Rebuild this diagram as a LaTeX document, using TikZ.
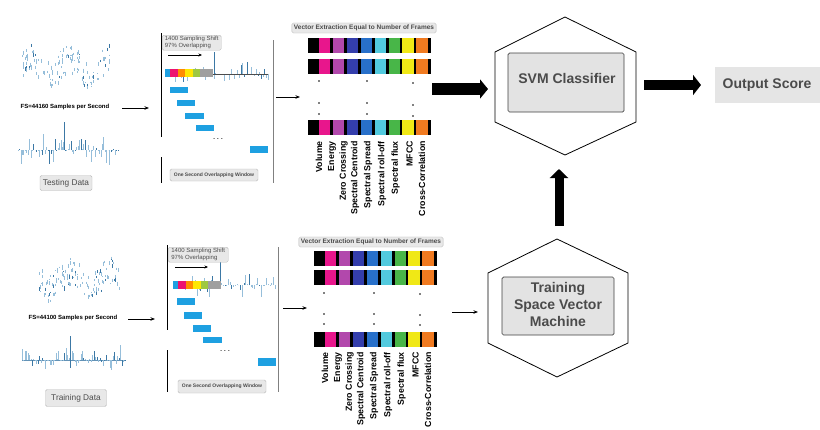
\documentclass[tikz,border=0pt]{standalone}
\usepackage{fontspec}
\setmainfont{Liberation Sans}
\usetikzlibrary{arrows.meta}
\definecolor{wv}{RGB}{150,190,218}
\definecolor{wvd}{RGB}{60,120,165}
\definecolor{cpink}{RGB}{232,22,140}
\definecolor{cpurple}{RGB}{178,72,172}
\definecolor{cindigo}{RGB}{52,62,172}
\definecolor{cblue}{RGB}{40,112,202}
\definecolor{ccyan}{RGB}{82,202,222}
\definecolor{cgreen}{RGB}{72,182,72}
\definecolor{cyellow}{RGB}{240,232,22}
\definecolor{corange}{RGB}{240,122,32}
\definecolor{winblue}{RGB}{30,160,225}
\definecolor{txtgray}{RGB}{75,75,75}
\newcommand\featrow[2]{%
  \fill[black] (#1,#2) rectangle ++(123,15);
  \foreach \c [count=\i from 0] in {cpink,cpurple,cindigo,cblue,ccyan,cgreen,cyellow,corange}{%
    \fill[\c] ({#1+11+\i*13.9},#2) rectangle ++(11.2,15);}%
}
\newcommand\featlabels[3]{%
  \foreach \o/\t [count=\i] in {0/Volume,13/Energy,24.5/Zero Crossing,36/Spectral Centroid,49/Spectral Spread,63/Spectral roll-off,76.5/Spectral flux,90.5/MFCC,103/Cross-Correlation}{%
    \node[feat] (#3\i) at ({#1+\o},#2) {\t};}%
}
\newcommand\scatwave[6]{%
  \pgfmathsetseed{#5}%
  \foreach \k in {1,...,#6}{%
    \pgfmathsetmacro\xx{#1+rnd*#2}%
    \pgfmathsetmacro\yy{#3+#4*sin(\xx*9)+rand*14}%
    \pgfmathsetmacro\hh{1+rnd*3.5}%
    \pgfmathsetmacro\cc{rnd>0.85 ? 1 : 0}%
    \ifdim\cc pt>0.5pt \draw[wvd,line width=0.5pt] (\xx,\yy) -- ++(0,\hh);%
    \else \draw[wv,line width=0.5pt] (\xx,\yy) -- ++(0,\hh);\fi}%
}
\newcommand\spikewave[6]{%
  \pgfmathsetseed{#5}%
  \foreach \k in {0,...,#6}{%
    \pgfmathsetmacro\xx{#1+\k*#2/#6}%
    \pgfmathsetmacro\hh{#4*rand*rnd}%
    \pgfmathsetmacro\cc{rnd>0.75 ? 1 : 0}%
    \ifdim\cc pt>0.5pt \draw[wvd,line width=0.7pt] (\xx,#3) -- ++(0,\hh);%
    \else \draw[wv,line width=0.6pt] (\xx,#3) -- ++(0,\hh);\fi}%
}
\newcommand\colstrip[2]{%
  \fill[winblue] (#1,#2) rectangle ++(5,8);
  \fill[cpink!80!red] ({#1+5},#2) rectangle ++(8,8);
  \fill[orange!90!yellow] ({#1+13},#2) rectangle ++(7,8);
  \fill[yellow!90!orange] ({#1+20},#2) rectangle ++(8,8);
  \fill[yellow!60!green!80!gray] ({#1+28},#2) rectangle ++(7,8);
  \fill[gray!75] ({#1+35},#2) rectangle ++(13,8);
}
\begin{document}
\begin{tikzpicture}[x=1pt,y=-1pt,
  graybox/.style={draw=gray!55, fill=gray!18, rounded corners=1.5pt, inner sep=1.5pt},
  thinarrow/.style={-{Stealth[length=4.5pt,width=3.5pt]}, line width=0.8pt},
  feat/.style={rotate=90, anchor=east, font=\bfseries\fontsize{8.8}{8.8}\selectfont, inner sep=0pt},
  hexline/.style={draw=black, line width=0.8pt},
  small/.style={font=\fontsize{6}{6.6}\selectfont, text=txtgray},
  fsfont/.style={font=\bfseries\fontsize{6}{6}\selectfont},
  bigbox/.style={font=\bfseries\fontsize{14}{17}\selectfont, text=txtgray},
]
\useasboundingbox (0,0) rectangle (820,429);

% ================= TOP ROW =================
\scatwave{22}{90}{66}{9}{3}{130}
\spikewave{18}{100}{150}{20}{7}{70}
\draw[wvd,line width=1pt] (64,150) -- (64,122);
\node[fsfont] (fs1) at (65,107) {FS=44160 Samples per Second};
\node[graybox, minimum width=52pt, minimum height=15pt, font=\fontsize{8.3}{8.3}\selectfont, text=txtgray] (td1) at (66,183) {Testing Data};
\coordinate (a1s) at (122,108);
\coordinate (a1e) at (149,108);
\draw[thinarrow] (a1s) -- (a1e);

% window panel
\draw[line width=0.8pt] (161,33) -- (161,137) (161,157) -- (161,183);
\draw[line width=0.6pt, gray] (273,40) -- (273,183);
\spikewave{175}{93}{74}{13}{11}{55}
\draw[wvd,line width=1pt] (214,74) -- (214,52);
\draw[line width=0.5pt, black!70] (208,74) -- (268,74);
\colstrip{165}{69}
\node[graybox, small, anchor=north west, align=left, minimum width=59pt, minimum height=15pt, inner sep=1pt] (sh1) at (162,35) {1400 Sampling Shift\\97\% Overlapping};
\coordinate (ia1s) at (168,55);
\coordinate (ia1e) at (202,55);
\draw[-{Stealth[length=3.5pt,width=3pt]}, line width=0.6pt] (ia1s) -- (ia1e);
\fill[winblue] (170,87) rectangle ++(18,6);
\fill[winblue] (177,100) rectangle ++(18,6);
\fill[winblue] (185,113) rectangle ++(19,6);
\fill[winblue] (196,125) rectangle ++(18,6);
\fill[winblue] (250,146) rectangle ++(18,7);
\node[font=\bfseries\fontsize{6}{6}\selectfont] (dd1) at (218,139) {. . .};
\node[graybox, font=\bfseries\fontsize{5}{5}\selectfont, text=txtgray, minimum width=88pt, minimum height=12pt] (ow1) at (214,175) {One Second Overlapping Window};

% feature vectors
\coordinate (a2s) at (276,97);
\coordinate (a2e) at (300,97);
\draw[thinarrow] (a2s) -- (a2e);
\node[graybox, font=\bfseries\fontsize{6.5}{6.5}\selectfont, text=txtgray, inner sep=2pt] (vt1) at (364,28) {Vector Extraction Equal to Number of Frames};
\featrow{308}{38}
\featrow{308}{59}
\featrow{308}{120}
\foreach \yy in {81,103,114}{
  \fill (319,\yy) circle (0.9pt);
  \fill (367,\yy) circle (0.9pt);
  \fill (413,\yy+2) circle (0.9pt);}
\featlabels{319}{141}{ftop}

% big arrow to SVM
\coordinate (b1s) at (432,89);
\coordinate (b1e) at (488,89);
\draw[line width=12pt, -{Triangle[length=8pt,width=19pt]}] (b1s) -- (b1e);

% SVM hexagon
\draw[hexline] (565,17) -- (636,52) -- (636,122) -- (565,155) -- (495,122) -- (495,52) -- cycle;
\node[draw=black!75, fill=gray!22, rounded corners=1.5pt, line width=0.7pt, minimum width=116pt, minimum height=59pt] (svm) at (566,82.5) {};
\node[bigbox] (svmt) at (567,78) {SVM Classifier};

\coordinate (b2s) at (644,85);
\coordinate (b2e) at (701,85);
\draw[line width=10pt, -{Triangle[length=8pt,width=20pt]}] (b2s) -- (b2e);
\node[fill=gray!20, bigbox, minimum width=105pt, minimum height=36pt] (out) at (767,85) {Output Score};

\coordinate (b3s) at (559,226);
\coordinate (b3e) at (559,169);
\draw[line width=9pt, -{Triangle[length=9pt,width=18pt]}] (b3s) -- (b3e);

% ================= BOTTOM ROW =================
\scatwave{38}{82}{278}{9}{5}{130}
\draw[line width=0.5pt, wvd!80] (22,360) -- (125,360);
\spikewave{22}{103}{360}{20}{9}{70}
\draw[wvd,line width=1pt] (70,360) -- (70,336);
\node[fsfont] (fs2) at (73,318) {FS=44100 Samples per Second};
\node[graybox, minimum width=61pt, minimum height=17pt, font=\fontsize{8.3}{8.3}\selectfont, text=txtgray] (td2) at (76,398) {Training Data};
\coordinate (a3s) at (128,319);
\coordinate (a3e) at (155,319);
\draw[thinarrow] (a3s) -- (a3e);

\draw[line width=0.8pt] (167,245) -- (167,330) (167,350) -- (167,392);
\draw[line width=0.6pt, gray] (278,247) -- (278,392);
\spikewave{180}{95}{285}{13}{13}{55}
\draw[wvd,line width=1pt] (220,285) -- (220,262);
\colstrip{173}{281}
\node[graybox, small, anchor=north west, align=left, minimum width=60pt, minimum height=15pt, inner sep=1pt] (sh2) at (168,247) {1400 Sampling Shift\\97\% Overlapping};
\coordinate (ia2s) at (175,267);
\coordinate (ia2e) at (208,267);
\draw[-{Stealth[length=3.5pt,width=3pt]}, line width=0.6pt] (ia2s) -- (ia2e);
\fill[winblue] (177,298) rectangle ++(18,7);
\fill[winblue] (184,312) rectangle ++(18,7);
\fill[winblue] (193,325) rectangle ++(18,7);
\fill[winblue] (203,337) rectangle ++(19,6);
\fill[winblue] (258,358) rectangle ++(18,8);
\node[font=\bfseries\fontsize{6}{6}\selectfont] (dd2) at (225,351) {. . .};
\node[graybox, font=\bfseries\fontsize{5}{5}\selectfont, text=txtgray, minimum width=88pt, minimum height=13pt] (ow2) at (222,386.5) {One Second Overlapping Window};

\coordinate (a4s) at (283,308);
\coordinate (a4e) at (307,308);
\draw[thinarrow] (a4s) -- (a4e);
\node[graybox, font=\bfseries\fontsize{6.5}{6.5}\selectfont, text=txtgray, inner sep=2pt] (vt2) at (371,242) {Vector Extraction Equal to Number of Frames};
\featrow{314}{251}
\featrow{314}{270}
\featrow{314}{332}
\foreach \yy in {293,314,324}{
  \fill (324,\yy) circle (0.9pt);
  \fill (374,\yy) circle (0.9pt);
  \fill (420,\yy+1) circle (0.9pt);}
\featlabels{325}{352}{fbot}

\coordinate (a5s) at (452,312);
\coordinate (a5e) at (478,312);
\draw[thinarrow] (a5s) -- (a5e);

% Training hexagon
\draw[hexline] (557,239) -- (628,273) -- (628,343) -- (557,377) -- (488,343) -- (488,273) -- cycle;
\node[draw=black!75, fill=gray!22, rounded corners=1.5pt, line width=0.7pt, minimum width=112pt, minimum height=58pt] (tsvm) at (558,306) {};
\node[bigbox, align=center] (tsvmt) at (558,304) {Training\\Space Vector\\Machine};
\end{tikzpicture}
\end{document}
